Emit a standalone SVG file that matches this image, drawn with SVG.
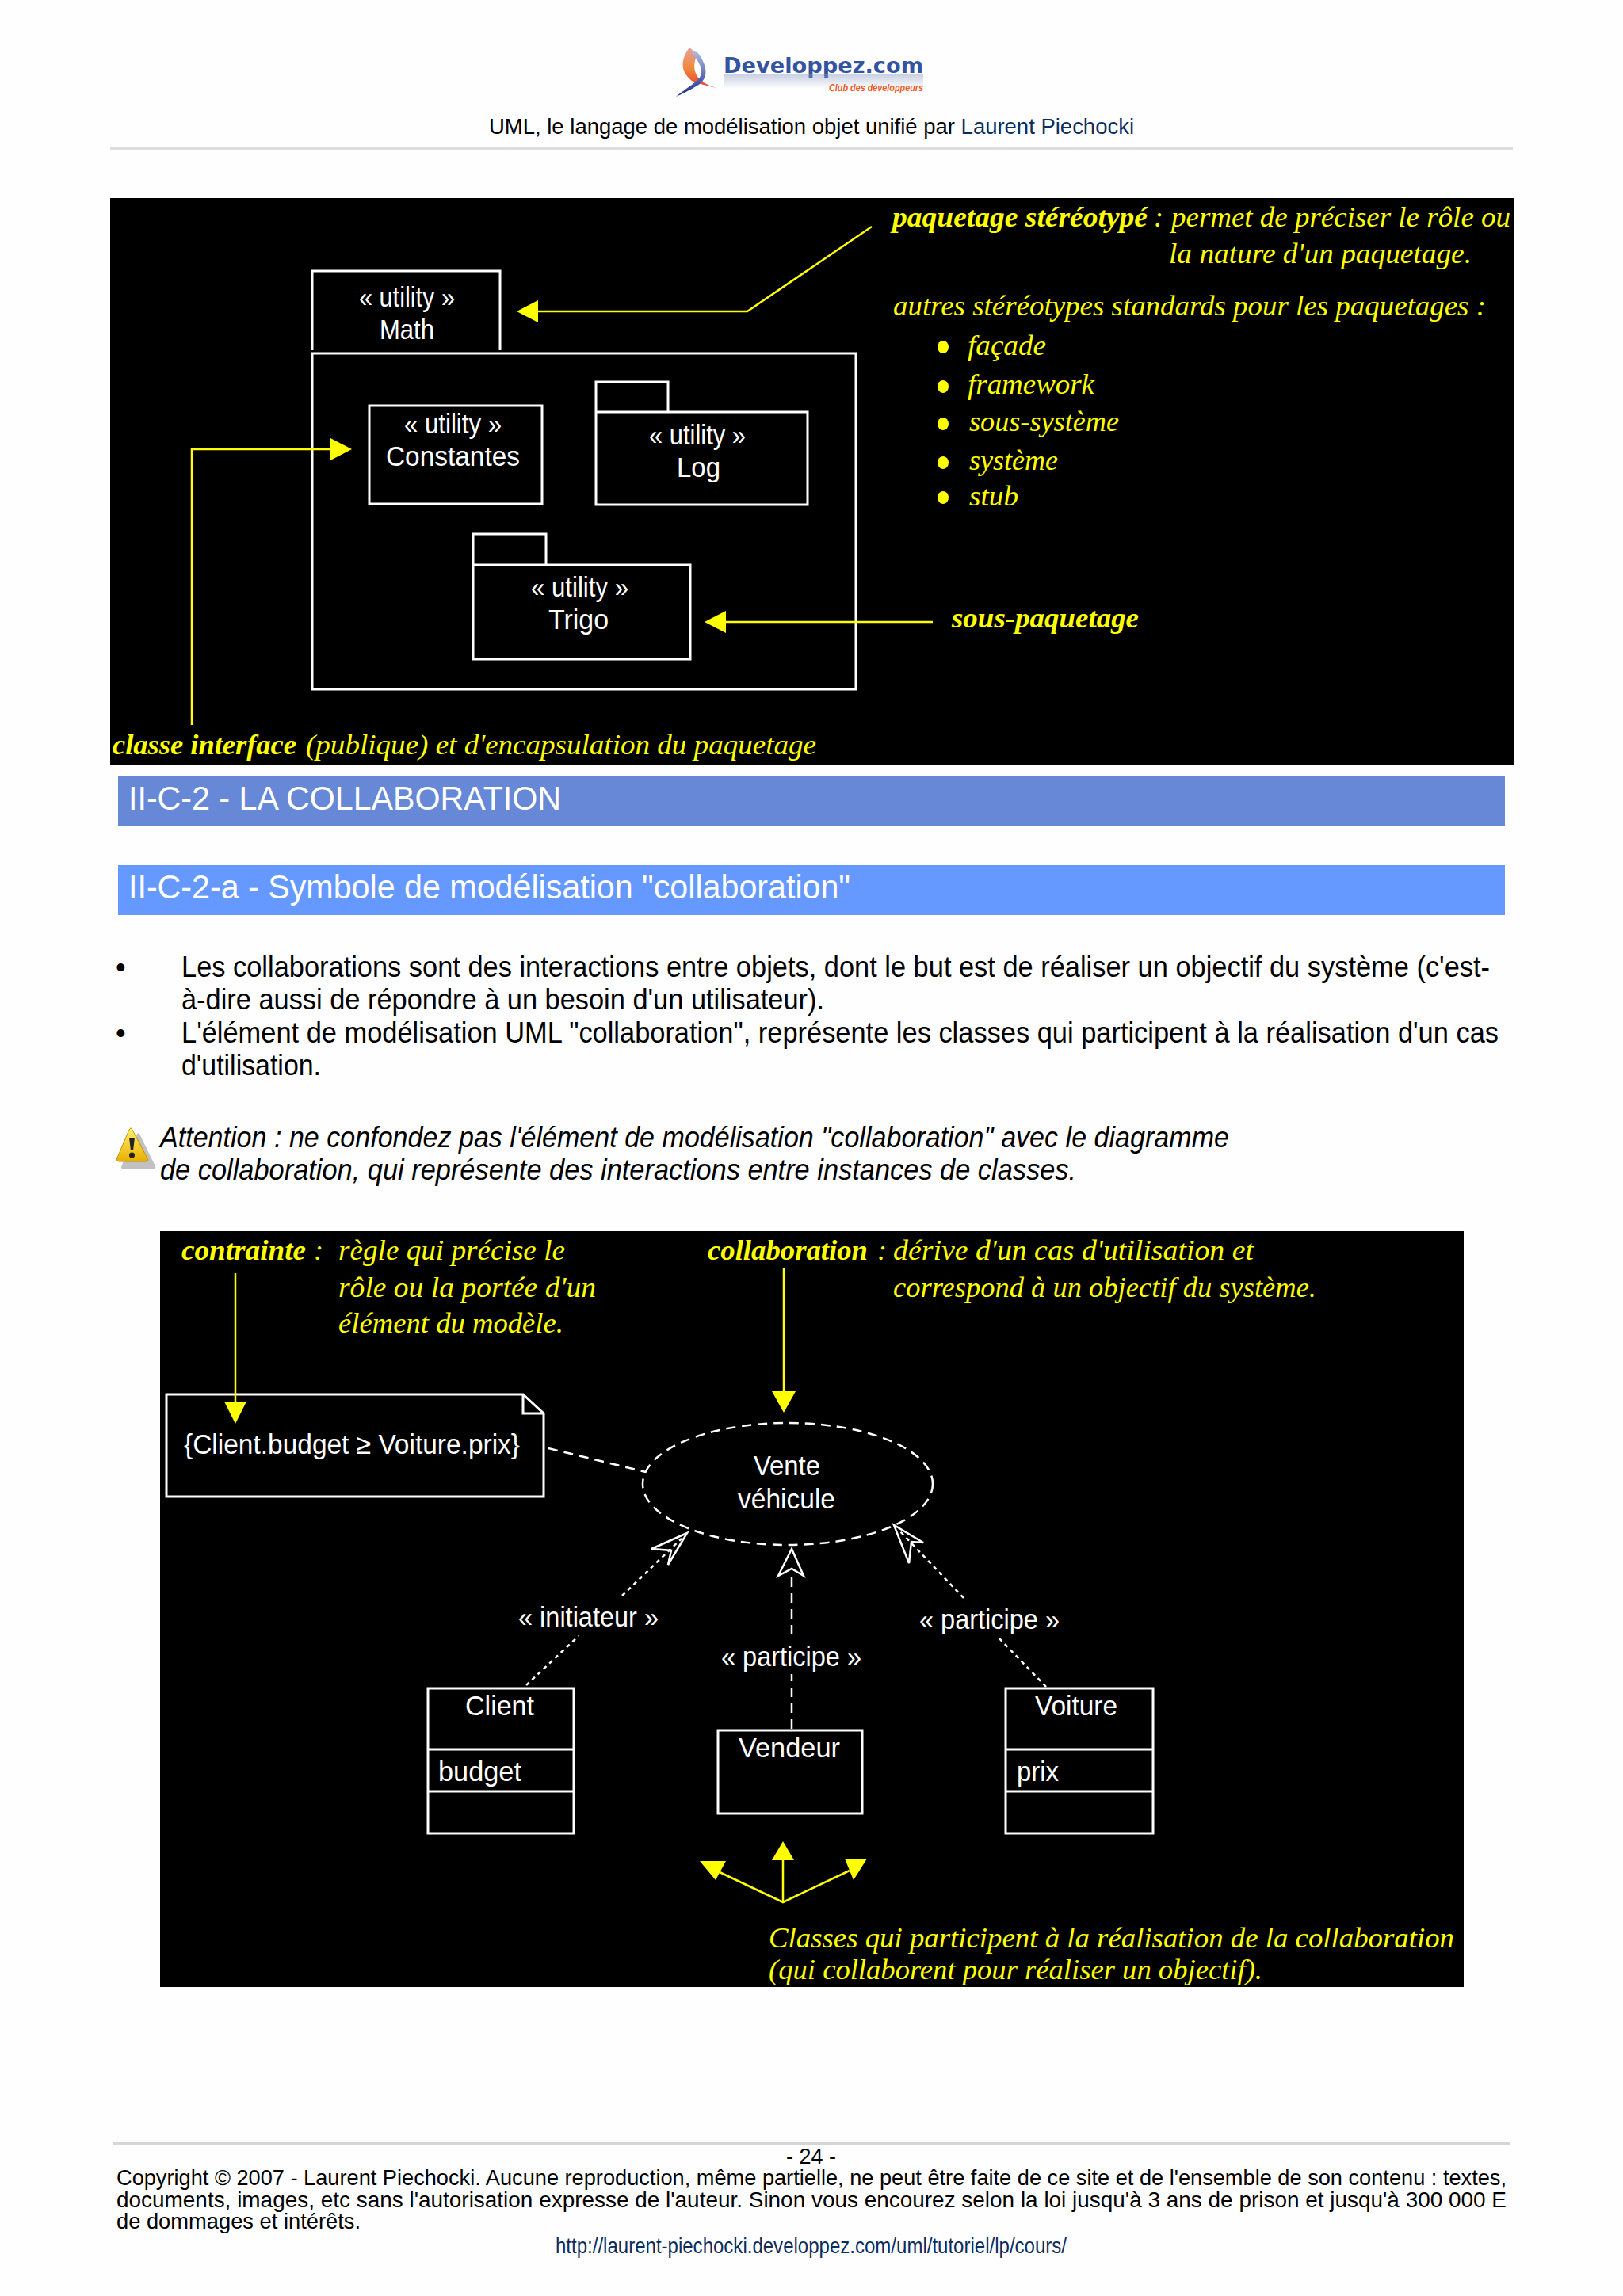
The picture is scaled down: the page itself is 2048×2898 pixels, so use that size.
<svg xmlns="http://www.w3.org/2000/svg" width="2048" height="2898" viewBox="0 0 2048 2898">
<defs>
<linearGradient id="sw1" x1="0" y1="0" x2="0" y2="1"><stop offset="0" stop-color="#e8a0a0"/><stop offset="0.5" stop-color="#f08a3c"/><stop offset="1" stop-color="#e84030"/></linearGradient>
<linearGradient id="sw2" x1="0" y1="0" x2="0" y2="1"><stop offset="0" stop-color="#b0c0e0"/><stop offset="1" stop-color="#1a2a90"/></linearGradient>
<linearGradient id="refl" x1="0" y1="0" x2="0" y2="1"><stop offset="0" stop-color="#8898c0" stop-opacity="0.45"/><stop offset="1" stop-color="#8898c0" stop-opacity="0"/></linearGradient>
<linearGradient id="warn" x1="0" y1="0" x2="0" y2="1"><stop offset="0" stop-color="#fff070"/><stop offset="1" stop-color="#e8b000"/></linearGradient>
</defs>
<style>
.b{font-family:"Liberation Sans",Arial,sans-serif;fill:#000}
.body{font-size:36px}
.foot{font-size:28px}
.h{font-family:"Liberation Sans",Arial,sans-serif;font-size:42px;fill:#fff}
.y{font-family:"Liberation Serif","Times New Roman",serif;font-style:italic;font-size:36px;fill:#ff0}
.yb{font-weight:bold}
.w{font-family:"Liberation Sans",Arial,sans-serif;font-size:35px;fill:#fff}
.box{fill:none;stroke:#fff;stroke-width:3}
.yl{fill:none;stroke:#ff0;stroke-width:2.500}
.ya{fill:#ff0;stroke:none}
.d{fill:none;stroke:#fff;stroke-width:2.500}
.d1{stroke-dasharray:12 8}
.d2{stroke-dasharray:5 5}
.oa{fill:none;stroke:#fff;stroke-width:2.500}
</style>
<rect width="2048" height="2898" fill="#fefefe"/>

<g id="header">
<path d="M870 60C858 76 858 92 876 104L904 111C880 104 870 90 880 68Z" fill="url(#sw1)"/>
<path d="M880 66C894 84 894 100 880 108C870 114 862 118 853 122C870 108 884 102 885 92C886 82 878 74 872 64Z" fill="url(#sw2)"/>
<text x="913" y="92" font-family="'DejaVu Sans',sans-serif" font-weight="bold" font-size="27" fill="#34549f" textLength="252" lengthAdjust="spacingAndGlyphs">Developpez.com</text>
<rect x="913" y="94" width="252" height="18" fill="url(#refl)"/>
<text x="1046" y="115" font-family="'Liberation Sans',sans-serif" font-style="italic" font-weight="bold" font-size="13" fill="#f05a28" textLength="119" lengthAdjust="spacingAndGlyphs">Club des développeurs</text>
<text x="617" y="169" class="b" font-size="28" textLength="814" lengthAdjust="spacingAndGlyphs">UML, le langage de modélisation objet unifié par <tspan fill="#0a2d5e">Laurent Piechocki</tspan></text>
<rect x="139" y="185" width="1770" height="4" fill="#ddd"/>
</g>

<g id="figure1-background"><rect x="139" y="250" width="1771" height="716" fill="#000"/></g>
<g id="pkg-math">
<path class="box" d="M394 442V342H631V442"/>
<path class="box" d="M394 446H1080V870H394Z"/>
<text class="w" x="453" y="387" textLength="121" lengthAdjust="spacingAndGlyphs">« utility »</text>
<text class="w" x="479" y="428" textLength="69" lengthAdjust="spacingAndGlyphs">Math</text>
</g>
<g id="cls-constantes">
<rect class="box" x="466" y="512" width="218" height="124"/>
<text class="w" x="510" y="547" textLength="123" lengthAdjust="spacingAndGlyphs">« utility »</text>
<text class="w" x="487" y="588" textLength="169" lengthAdjust="spacingAndGlyphs">Constantes</text>
</g>
<g id="pkg-log">
<path class="box" d="M752 520V482H843V520M752 520H1019V637H752Z"/>
<text class="w" x="819" y="561" textLength="122" lengthAdjust="spacingAndGlyphs">« utility »</text>
<text class="w" x="854" y="602" textLength="55" lengthAdjust="spacingAndGlyphs">Log</text>
</g>
<g id="pkg-trigo">
<path class="box" d="M597 713V674H689V713M597 713H871V832H597Z"/>
<text class="w" x="670" y="753" textLength="123" lengthAdjust="spacingAndGlyphs">« utility »</text>
<text class="w" x="692" y="794" textLength="76" lengthAdjust="spacingAndGlyphs">Trigo</text>
</g>
<g id="notes1">
<text class="y yb" x="1126" y="286" textLength="322" lengthAdjust="spacingAndGlyphs">paquetage stéréotypé</text>
<text class="y" x="1456" y="286">:</text>
<text class="y" x="1478" y="286" textLength="428" lengthAdjust="spacingAndGlyphs">permet de préciser le rôle ou</text>
<text class="y" x="1475" y="332" textLength="382" lengthAdjust="spacingAndGlyphs">la nature d'un paquetage.</text>
<text class="y" x="1127" y="398" textLength="748" lengthAdjust="spacingAndGlyphs">autres stéréotypes standards pour les paquetages :</text>
<ellipse class="ya" cx="1190" cy="438" rx="7" ry="8"/><ellipse class="ya" cx="1190" cy="488" rx="7" ry="8"/><ellipse class="ya" cx="1190" cy="535" rx="7" ry="8"/><ellipse class="ya" cx="1190" cy="584" rx="7" ry="8"/><ellipse class="ya" cx="1190" cy="628" rx="7" ry="8"/>
<text class="y" x="1221" y="448" textLength="99" lengthAdjust="spacingAndGlyphs">façade</text>
<text class="y" x="1221" y="497" textLength="160" lengthAdjust="spacingAndGlyphs">framework</text>
<text class="y" x="1223" y="544" textLength="189" lengthAdjust="spacingAndGlyphs">sous-système</text>
<text class="y" x="1223" y="593" textLength="112" lengthAdjust="spacingAndGlyphs">système</text>
<text class="y" x="1223" y="638" textLength="62" lengthAdjust="spacingAndGlyphs">stub</text>
<text class="y yb" x="1201" y="792" textLength="236" lengthAdjust="spacingAndGlyphs">sous-paquetage</text>
<text class="y yb" x="142" y="952" textLength="232" lengthAdjust="spacingAndGlyphs">classe interface</text>
<text class="y" x="386" y="952" textLength="644" lengthAdjust="spacingAndGlyphs">(publique) et d'encapsulation du paquetage</text>
</g>
<g id="connectors1">
<path class="yl" d="M679 393H943L1100 286"/>
<path class="ya" d="M652 393L679 379V407Z"/>
<path class="yl" d="M242 915V567H418"/>
<path class="ya" d="M444 567L417 553V581Z"/>
<path class="yl" d="M916 785H1177"/>
<path class="ya" d="M889 785L916 771V799Z"/>
</g>

<g id="heading-1">
<rect x="149" y="980" width="1750" height="63" fill="#6688d6"/>
<text class="h" x="162" y="1022" textLength="546" lengthAdjust="spacingAndGlyphs">II-C-2 - LA COLLABORATION</text>
</g>
<g id="heading-2">
<rect x="149" y="1092" width="1750" height="63" fill="#6699ff"/>
<text class="h" x="162" y="1134" textLength="911" lengthAdjust="spacingAndGlyphs">II-C-2-a - Symbole de modélisation "collaboration"</text>
</g>
<g id="body-text">
<text class="b body" x="146" y="1233">•</text>
<text class="b body" x="229" y="1233" textLength="1651" lengthAdjust="spacingAndGlyphs">Les collaborations sont des interactions entre objets, dont le but est de réaliser un objectif du système (c'est-</text>
<text class="b body" x="229" y="1274" textLength="811" lengthAdjust="spacingAndGlyphs">à-dire aussi de répondre à un besoin d'un utilisateur).</text>
<text class="b body" x="146" y="1316">•</text>
<text class="b body" x="229" y="1316" textLength="1662" lengthAdjust="spacingAndGlyphs">L'élément de modélisation UML "collaboration", représente les classes qui participent à la réalisation d'un cas</text>
<text class="b body" x="229" y="1357" textLength="176" lengthAdjust="spacingAndGlyphs">d'utilisation.</text>
</g>
<g id="warning">
<path d="M172 1429L191 1468Q192 1472 188 1472H152Q146 1472 149 1466L167 1429Q170 1423 172 1429Z" fill="#777" opacity="0.45" transform="translate(5 4)"/>
<path d="M167 1426L186 1462Q188 1466 184 1466H151Q146 1466 148 1461L163 1426Q165 1422 167 1426Z" fill="url(#warn)" stroke="#c89000" stroke-width="1"/>
<path d="M163 1436H170L168 1452H165Z" fill="#222"/><circle cx="166.500" cy="1458" r="3.500" fill="#222"/>
<text class="b body" font-style="italic" x="202" y="1448" textLength="1349" lengthAdjust="spacingAndGlyphs">Attention : ne confondez pas l'élément de modélisation "collaboration" avec le diagramme</text>
<text class="b body" font-style="italic" x="202" y="1489" textLength="1156" lengthAdjust="spacingAndGlyphs">de collaboration, qui représente des interactions entre instances de classes.</text>
</g>

<g id="figure2-background"><rect x="202" y="1554" width="1645" height="954" fill="#000"/></g>
<g id="note-contrainte">
<path class="box" d="M210 1760H660L686 1784V1889H210Z"/>
<path class="box" d="M660 1760V1784H686"/>
<text class="w" x="232" y="1835" textLength="424" lengthAdjust="spacingAndGlyphs">{Client.budget ≥ Voiture.prix}</text>
</g>
<g id="collab-vente">
<ellipse class="d d1" cx="994" cy="1873" rx="183" ry="77"/>
<text class="w" x="951" y="1862" textLength="84" lengthAdjust="spacingAndGlyphs">Vente</text>
<text class="w" x="931" y="1904" textLength="123" lengthAdjust="spacingAndGlyphs">véhicule</text>
</g>
<g id="cls-client">
<rect class="box" x="540" y="2131" width="184" height="183"/>
<path class="box" d="M540 2208H724M540 2261H724"/>
<text class="w" x="587" y="2165" textLength="87" lengthAdjust="spacingAndGlyphs">Client</text>
<text class="w" x="553" y="2248" textLength="105" lengthAdjust="spacingAndGlyphs">budget</text>
</g>
<g id="cls-vendeur">
<rect class="box" x="906" y="2184" width="182" height="105"/>
<text class="w" x="932" y="2218" textLength="128" lengthAdjust="spacingAndGlyphs">Vendeur</text>
</g>
<g id="cls-voiture">
<rect class="box" x="1269" y="2131" width="186" height="183"/>
<path class="box" d="M1269 2208H1455M1269 2261H1455"/>
<text class="w" x="1306" y="2165" textLength="104" lengthAdjust="spacingAndGlyphs">Voiture</text>
<text class="w" x="1283" y="2248" textLength="53" lengthAdjust="spacingAndGlyphs">prix</text>
</g>
<g id="notes2">
<text class="y yb" x="229" y="1590" textLength="157" lengthAdjust="spacingAndGlyphs">contrainte</text>
<text class="y" x="396" y="1590">:</text>
<text class="y" x="427" y="1590" textLength="286" lengthAdjust="spacingAndGlyphs">règle qui précise le</text>
<text class="y" x="427" y="1637" textLength="325" lengthAdjust="spacingAndGlyphs">rôle ou la portée d'un</text>
<text class="y" x="427" y="1682" textLength="284" lengthAdjust="spacingAndGlyphs">élément du modèle.</text>
<text class="y yb" x="893" y="1590" textLength="202" lengthAdjust="spacingAndGlyphs">collaboration</text>
<text class="y" x="1107" y="1590">:</text>
<text class="y" x="1127" y="1590" textLength="455" lengthAdjust="spacingAndGlyphs">dérive d'un cas d'utilisation et</text>
<text class="y" x="1127" y="1637" textLength="534" lengthAdjust="spacingAndGlyphs">correspond à un objectif du système.</text>
<text class="y" x="970" y="2458" textLength="865" lengthAdjust="spacingAndGlyphs">Classes qui participent à la réalisation de la collaboration</text>
<text class="y" x="970" y="2498" textLength="623" lengthAdjust="spacingAndGlyphs">(qui collaborent pour réaliser un objectif).</text>
</g>
<g id="connectors2">
<path class="yl" d="M297 1607V1770"/><path class="ya" d="M297 1797L283 1769H311Z"/>
<path class="yl" d="M989 1601V1757"/><path class="ya" d="M989 1783L974 1756H1004Z"/>
<path class="d d1" d="M692 1828L815 1858"/>
<path class="d d2" d="M664 2127L730 2065M785 2014L860 1942"/>
<path class="oa" d="M867 1935L822 1955L847 1957L843 1975Z"/>
<text class="w" x="654" y="2053" textLength="177" lengthAdjust="spacingAndGlyphs">« initiateur »</text>
<path class="d d1" d="M999 2182V2113M999 2063V1985"/>
<path class="oa" d="M999 1955L982 1989L999 1980L1014 1989Z"/>
<text class="w" x="910" y="2103" textLength="177" lengthAdjust="spacingAndGlyphs">« participe »</text>
<path class="d d2" d="M1320 2129L1260 2067M1216 2017L1135 1932"/>
<path class="oa" d="M1128 1925L1147 1973L1150 1946L1165 1947Z"/>
<text class="w" x="1160" y="2056" textLength="177" lengthAdjust="spacingAndGlyphs">« participe »</text>
<path class="yl" d="M988 2348V2401M908 2363L988 2401L1072 2361"/>
<path class="ya" d="M988 2324L974 2348H1002Z"/>
<path class="ya" d="M883 2349H916L903 2373Z"/>
<path class="ya" d="M1066 2346H1094L1077 2373Z"/>
</g>

<g id="footer">
<rect x="143" y="2703" width="1763" height="4" fill="#d5d5d8"/>
<text class="b foot" x="992" y="2731" textLength="63" lengthAdjust="spacingAndGlyphs">- 24 -</text>
<text class="b foot" x="147" y="2758" textLength="1754" lengthAdjust="spacingAndGlyphs">Copyright © 2007 - Laurent Piechocki. Aucune reproduction, même partielle, ne peut être faite de ce site et de l'ensemble de son contenu : textes,</text>
<text class="b foot" x="147" y="2786" textLength="1754" lengthAdjust="spacingAndGlyphs">documents, images, etc sans l'autorisation expresse de l'auteur. Sinon vous encourez selon la loi jusqu'à 3 ans de prison et jusqu'à 300 000 E</text>
<text class="b foot" x="147" y="2813" textLength="308" lengthAdjust="spacingAndGlyphs">de dommages et intérêts.</text>
<text class="b foot" x="701" y="2844" textLength="645" lengthAdjust="spacingAndGlyphs" style="fill:#0a2d5e">http://laurent-piechocki.developpez.com/uml/tutoriel/lp/cours/</text>
</g>
</svg>
